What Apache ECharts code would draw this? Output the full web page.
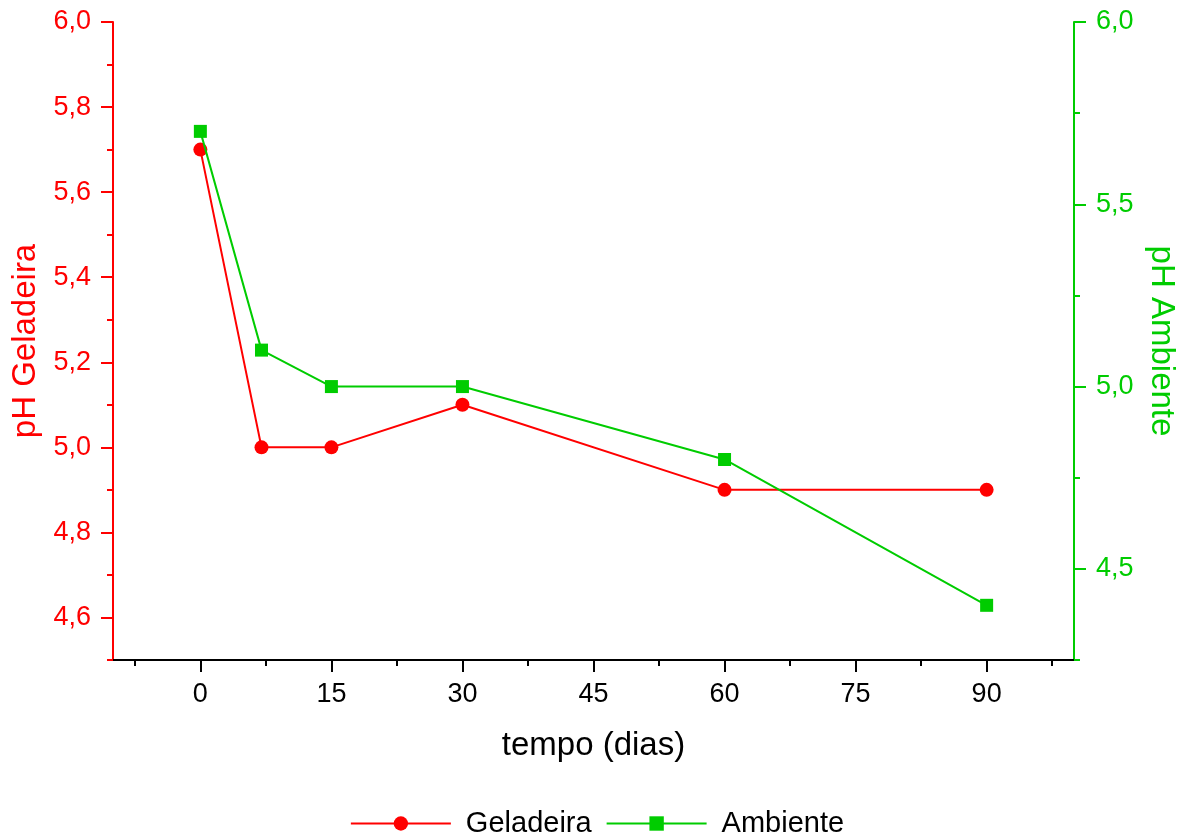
<!DOCTYPE html>
<html>
<head>
<meta charset="utf-8">
<script src="https://cdn.jsdelivr.net/npm/echarts@6/dist/echarts.min.js"></script>
<style>html,body{margin:0;padding:0;background:#fff;}#c{width:1194px;height:838px;}</style>
</head>
<body>
<div id="c"></div>
<script>
// Data
const days = [0, 7, 15, 30, 60, 90];
const geladeira = [5.7, 5.0, 5.0, 5.1, 4.9, 4.9];
const ambiente = [5.7, 5.1, 5.0, 5.0, 4.8, 4.4];

// Tick values
const xMajor = [0, 15, 30, 45, 60, 75, 90];
const xMinor = [-7.5, 7.5, 22.5, 37.5, 52.5, 67.5, 82.5, 97.5];
const leftMajor = [4.6, 4.8, 5.0, 5.2, 5.4, 5.6, 5.8, 6.0];
const leftMinor = [4.5, 4.7, 4.9, 5.1, 5.3, 5.5, 5.7, 5.9];
const rightMajor = [4.5, 5.0, 5.5, 6.0];
const rightMinor = [4.25, 4.75, 5.25, 5.75];

const RED = '#ff0000';
const GREEN = '#00cc00';
const FONT = "'Liberation Sans', Arial, sans-serif";
const comma = v => Number(v).toFixed(1).replace('.', ',');

const chart = echarts.init(document.getElementById('c'), null, {renderer: 'canvas'});
const option = {
  backgroundColor: '#ffffff',
  animation: false,
  textStyle: {fontFamily: FONT},
  grid: {left: 113, right: 120, top: 22, bottom: 178, containLabel: false, outerBoundsMode: 'none'},
  legend: {
    bottom: -5,
    left: 'center',
    itemWidth: 100,
    itemHeight: 18,
    itemGap: 14,
    textStyle: {fontFamily: FONT, fontSize: 29, color: '#000', padding: [0, 0, 0, 10]},
    data: ['Geladeira', 'Ambiente']
  },
  xAxis: [
    {
      type: 'value', min: -10, max: 100, position: 'bottom',
      name: 'tempo (dias)', nameLocation: 'middle', nameGap: 69,
      nameTextStyle: {fontFamily: FONT, fontSize: 33, color: '#000'},
      axisLine: {show: true, onZero: false, lineStyle: {color: '#000', width: 2}},
      axisTick: {show: true, inside: false, length: 12, lineStyle: {color: '#000', width: 2}, customValues: xMajor},
      axisLabel: {show: true, margin: 21, fontFamily: FONT, fontSize: 27, color: '#000', customValues: xMajor, formatter: v => String(v)},
      splitLine: {show: false}
    },
    {
      type: 'value', min: -10, max: 100, position: 'bottom',
      axisLine: {show: false, onZero: false},
      axisTick: {show: true, inside: false, length: 6, lineStyle: {color: '#000', width: 2}, customValues: xMinor},
      axisLabel: {show: false},
      splitLine: {show: false}
    }
  ],
  yAxis: [
    {
      type: 'value', min: 4.5, max: 6.0, position: 'left',
      name: 'pH Geladeira', nameLocation: 'middle', nameGap: 71, nameRotate: 90,
      nameTextStyle: {fontFamily: FONT, fontSize: 33, color: RED},
      axisLine: {show: true, onZero: false, lineStyle: {color: RED, width: 2}},
      axisTick: {show: true, inside: false, length: 12, lineStyle: {color: RED, width: 2}, customValues: leftMajor},
      axisLabel: {show: true, margin: 22, fontFamily: FONT, fontSize: 27, color: RED, customValues: leftMajor, formatter: comma},
      splitLine: {show: false}
    },
    {
      type: 'value', min: 4.25, max: 6.0, position: 'right',
      name: 'pH Ambiente', nameLocation: 'middle', nameGap: 68, nameRotate: -90,
      nameTextStyle: {fontFamily: FONT, fontSize: 33, color: GREEN},
      axisLine: {show: true, onZero: false, lineStyle: {color: GREEN, width: 2}},
      axisTick: {show: true, inside: false, length: 12, lineStyle: {color: GREEN, width: 2}, customValues: rightMajor},
      axisLabel: {show: true, margin: 22, fontFamily: FONT, fontSize: 27, color: GREEN, customValues: rightMajor, formatter: comma},
      splitLine: {show: false}
    },
    {
      type: 'value', min: 4.5, max: 6.0, position: 'left',
      axisLine: {show: false, onZero: false},
      axisTick: {show: true, inside: false, length: 6, lineStyle: {color: RED, width: 2}, customValues: leftMinor},
      axisLabel: {show: false},
      splitLine: {show: false}
    },
    {
      type: 'value', min: 4.25, max: 6.0, position: 'right',
      axisLine: {show: false, onZero: false},
      axisTick: {show: true, inside: false, length: 6, lineStyle: {color: GREEN, width: 2}, customValues: rightMinor},
      axisLabel: {show: false},
      splitLine: {show: false}
    }
  ],
  series: [
    {
      name: 'Geladeira', type: 'line', xAxisIndex: 0, yAxisIndex: 0,
      data: days.map((d, i) => [d, geladeira[i]]),
      symbol: 'circle', symbolSize: 14,
      lineStyle: {color: RED, width: 2},
      itemStyle: {color: RED},
      z: 3
    },
    {
      name: 'Ambiente', type: 'line', xAxisIndex: 0, yAxisIndex: 1,
      data: days.map((d, i) => [d, ambiente[i]]),
      symbol: 'rect', symbolSize: 13,
      lineStyle: {color: GREEN, width: 2},
      itemStyle: {color: GREEN},
      z: 4
    }
  ]
};
chart.setOption(option);
</script>
</body>
</html>
